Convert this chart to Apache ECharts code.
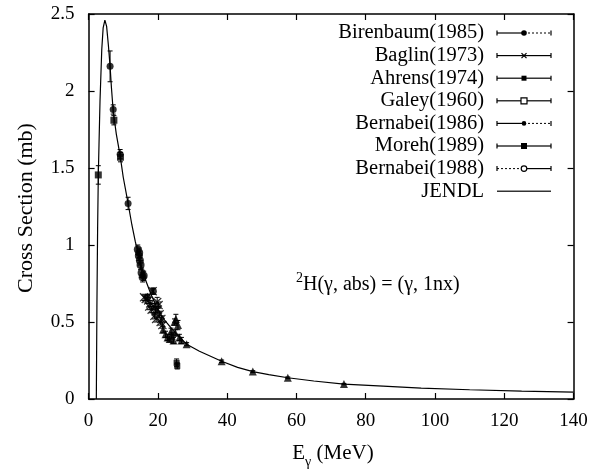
<!DOCTYPE html>
<html><head><meta charset="utf-8">
<script src="https://cdn.jsdelivr.net/npm/echarts@6/dist/echarts.min.js"></script>
<style>html,body{margin:0;padding:0;background:#fff}#c{width:593px;height:473px}</style>
</head><body><div id="c"></div>
<script>
// ---------- data ----------
const xTicks = [0, 20, 40, 60, 80, 100, 120, 140];
const yTicks = [0, 0.5, 1, 1.5, 2, 2.5];

const jendlE = [2.23, 2.4, 2.6, 2.8, 3.0, 3.3, 3.8, 4.2, 4.7, 5.2, 5.7, 6.2, 6.6, 7.1, 8, 9.1, 10, 11.4, 12.5, 13.5, 15, 16.5, 18, 20, 22, 25, 28.3, 32, 38.4, 43, 47.4, 52, 57.5, 65, 73.7, 85, 96, 110, 125, 140];
const jendlY = [0, 0.6, 1.1, 1.45, 1.65, 1.94, 2.27, 2.41, 2.46, 2.42, 2.3, 2.16, 2.02, 1.87, 1.72, 1.58, 1.44, 1.27, 1.13, 1.02, 0.88, 0.77, 0.68, 0.58, 0.51, 0.43, 0.356, 0.31, 0.245, 0.205, 0.178, 0.158, 0.138, 0.117, 0.097, 0.083, 0.07, 0.06, 0.051, 0.045];

const birenbaumE = [6.2, 7.1, 9.1, 11.4];
const birenbaumY = [2.16, 1.88, 1.59, 1.27];
const birenbaumErr = [0.10, 0.03, 0.03, 0.04];

const baglinE = [16.5, 17.2, 17.8, 18.5, 18.9, 19.3, 19.8, 20.2, 20.5, 19.5, 20.8, 21.3, 16.0, 18.2, 17.5, 19.0, 20.0, 21.0];
const baglinY = [0.65, 0.64, 0.62, 0.70, 0.60, 0.57, 0.63, 0.61, 0.55, 0.52, 0.50, 0.48, 0.66, 0.58, 0.60, 0.54, 0.58, 0.52];
const baglinErr = [0.02, 0.02, 0.02, 0.02, 0.02, 0.02, 0.03, 0.02, 0.02, 0.02, 0.02, 0.02, 0.02, 0.02, 0.02, 0.02, 0.02, 0.02];

const ahrensE = [21.5, 22.2, 22.8, 23.4, 24.0, 24.5, 25.0, 25.2, 25.8, 26.2, 24.8, 23.8, 26.8, 28.3, 38.4, 47.4, 57.5, 73.7];
const ahrensY = [0.45, 0.42, 0.40, 0.39, 0.41, 0.38, 0.43, 0.52, 0.48, 0.40, 0.50, 0.44, 0.38, 0.356, 0.245, 0.178, 0.138, 0.097];
const ahrensErr = [0.02, 0.02, 0.02, 0.02, 0.02, 0.02, 0.02, 0.03, 0.03, 0.02, 0.02, 0.02, 0.02, 0.01, 0.008, 0.006, 0.005, 0.004];

const galeyE = [25.4, 25.6];
const galeyY = [0.235, 0.215];
const galeyErr = [0.025, 0.02];

const bernabei86E = [14.2, 14.5, 14.6, 14.8, 15.0, 15.3, 15.6, 15.9];
const bernabei86Y = [0.97, 0.93, 0.95, 0.90, 0.87, 0.82, 0.79, 0.80];
const bernabei86Err = [0.03, 0.03, 0.03, 0.03, 0.03, 0.03, 0.03, 0.03];

const morehE = [2.8, 7.3, 9.2];
const morehY = [1.455, 1.81, 1.57];
const morehErr = [0.06, 0.03, 0.03];

const bernabei88E = [18.7, 17.0];
const bernabei88Y = [0.70, 0.66];
const bernabei88Err = [0.02, 0.02];

const legendNames = ['Birenbaum(1985)', 'Baglin(1973)', 'Ahrens(1974)', 'Galey(1960)', 'Bernabei(1986)', 'Moreh(1989)', 'Bernabei(1988)', 'JENDL'];

// ---------- helpers ----------
function zip3(a, b, c) { return a.map((v, i) => [v, b[i], c[i]]); }
const FONT = '"Liberation Serif", "Times New Roman", serif';
const XPATH = 'path://M1,0L5,4L9,0L10,1L6,5L10,9L9,10L5,6L1,10L0,9L4,5L0,1Z';

function errSeries(name, data) {
  return {
    type: 'custom', name: name + '-err', data: data, z: 3,
    dimensions: ['x', 'y', 'e'], encode: { x: 0, y: 1 },
    renderItem: function (params, api) {
      const x = api.value(0), y = api.value(1), e = api.value(2);
      const t = api.coord([x, y + e]), b = api.coord([x, y - e]);
      const st = { stroke: '#000', lineWidth: 1 };
      return { type: 'group', children: [
        { type: 'line', shape: { x1: t[0], y1: t[1], x2: b[0], y2: b[1] }, style: st },
        { type: 'line', shape: { x1: t[0] - 2.5, y1: t[1], x2: t[0] + 2.5, y2: t[1] }, style: st },
        { type: 'line', shape: { x1: b[0] - 2.5, y1: b[1], x2: b[0] + 2.5, y2: b[1] }, style: st }
      ]};
    }
  };
}
function ptSeries(name, data, symbol, size, filled) {
  return {
    type: 'scatter', name: name, data: data, symbol: symbol, symbolSize: size, z: 4,
    itemStyle: filled ? { color: '#000' } : { color: '#fff', borderColor: '#000', borderWidth: 1 }
  };
}

const datasets = [
  ['Birenbaum(1985)', zip3(birenbaumE, birenbaumY, birenbaumErr), 'circle', 7, true],
  ['Baglin(1973)', zip3(baglinE, baglinY, baglinErr), XPATH, 9, true],
  ['Ahrens(1974)', zip3(ahrensE, ahrensY, ahrensErr), 'triangle', 8, true],
  ['Galey(1960)', zip3(galeyE, galeyY, galeyErr), 'rect', 6, true],
  ['Bernabei(1986)', zip3(bernabei86E, bernabei86Y, bernabei86Err), 'circle', 8, true],
  ['Moreh(1989)', zip3(morehE, morehY, morehErr), 'rect', 7, true],
  ['Bernabei(1988)', zip3(bernabei88E, bernabei88Y, bernabei88Err), 'circle', 7, true]
];

const series = [{
  type: 'line', name: 'JENDL', data: jendlE.map((e, i) => [e, jendlY[i]]),
  showSymbol: false, lineStyle: { color: '#000', width: 1.2 }, z: 2, silent: true
}];
datasets.forEach(d => { series.push(errSeries(d[0], d[1])); series.push(ptSeries(d[0], d[1], d[2], d[3], d[4])); });

// ---------- legend (drawn as graphic) ----------
const LX_TEXT = 484, LX0 = 497, LX1 = 551, LXM = 524, LY0 = 33, LDY = 22.6;
const gfx = [];
const styles = [
  { marker: 'circleF', dashR: true },
  { marker: 'x' },
  { marker: 'sq' },
  { marker: 'sqO' },
  { marker: 'dot', dashR: true },
  { marker: 'sqB' },
  { marker: 'circO', dashL: true },
  { marker: null, noCaps: true }
];
legendNames.forEach((nm, i) => {
  const y = LY0 + i * LDY;
  const s = styles[i];
  gfx.push({ type: 'text', x: LX_TEXT, y: y, style: { text: nm, font: '20.5px ' + FONT, fill: '#000', align: 'right', verticalAlign: 'middle' } });
  const st = { stroke: '#000', lineWidth: 1.2 };
  const dst = { stroke: '#000', lineWidth: 1, lineDash: [2, 2] };
  gfx.push({ type: 'line', shape: { x1: LX0, y1: y, x2: LXM, y2: y }, style: s.dashL ? dst : st });
  gfx.push({ type: 'line', shape: { x1: LXM, y1: y, x2: LX1, y2: y }, style: s.dashR ? dst : st });
  if (!s.noCaps) {
    gfx.push({ type: 'line', shape: { x1: LX0, y1: y - 2.5, x2: LX0, y2: y + 2.5 }, style: st });
    gfx.push({ type: 'line', shape: { x1: LX1, y1: y - 2.5, x2: LX1, y2: y + 2.5 }, style: st });
  }
  if (s.marker === 'circleF') gfx.push({ type: 'circle', shape: { cx: LXM, cy: y, r: 2.8 }, style: { fill: '#000' } });
  if (s.marker === 'dot') gfx.push({ type: 'circle', shape: { cx: LXM, cy: y, r: 2.3 }, style: { fill: '#000' } });
  if (s.marker === 'x') {
    gfx.push({ type: 'line', shape: { x1: LXM - 2.5, y1: y - 2.5, x2: LXM + 2.5, y2: y + 2.5 }, style: st });
    gfx.push({ type: 'line', shape: { x1: LXM - 2.5, y1: y + 2.5, x2: LXM + 2.5, y2: y - 2.5 }, style: st });
  }
  if (s.marker === 'sq') gfx.push({ type: 'rect', shape: { x: LXM - 2.5, y: y - 2.5, width: 5, height: 5 }, style: { fill: '#000' } });
  if (s.marker === 'sqB') gfx.push({ type: 'rect', shape: { x: LXM - 3, y: y - 3, width: 6, height: 6 }, style: { fill: '#000' } });
  if (s.marker === 'sqO') gfx.push({ type: 'rect', shape: { x: LXM - 3, y: y - 3, width: 6, height: 6 }, style: { fill: '#fff', stroke: '#000', lineWidth: 1.2 } });
  if (s.marker === 'circO') gfx.push({ type: 'circle', shape: { cx: LXM, cy: y, r: 2.8 }, style: { fill: '#fff', stroke: '#000', lineWidth: 1.2 } });
});
// annotation
gfx.push({ type: 'text', x: 296, y: 283, style: {
  text: '{s|2}{n|H(γ, abs) = (γ, 1nx)}', verticalAlign: 'middle',
  rich: { s: { font: '14px ' + FONT, fill: '#000', verticalAlign: 'top', lineHeight: 24 }, n: { font: '20px ' + FONT, fill: '#000', lineHeight: 24, verticalAlign: 'bottom' } }
}});
// axis titles
gfx.push({ type: 'text', x: 26, y: 208, rotation: Math.PI / 2, style: { text: 'Cross Section (mb)', font: '22px ' + FONT, fill: '#000', align: 'center', verticalAlign: 'middle' } });
gfx.push({ type: 'text', x: 333, y: 456, style: {
  text: '{n|E}{s|γ}{n| (MeV)}', align: 'center', verticalAlign: 'middle',
  rich: { n: { font: '21px ' + FONT, fill: '#000', lineHeight: 26, verticalAlign: 'top' }, s: { font: '14px ' + FONT, fill: '#000', lineHeight: 26, verticalAlign: 'bottom' } }
}});

const axisCommon = {
  axisLine: { show: true, onZero: false, lineStyle: { color: '#000', width: 1.5 } },
  axisTick: { show: true, inside: true, length: 6, lineStyle: { color: '#000', width: 1.2 } },
  splitLine: { show: false }
};
const chart = echarts.init(document.getElementById('c'), null, { renderer: 'canvas' });
chart.setOption({
  animation: false,
  backgroundColor: '#fff',
  grid: { left: 88.6, right: 19.4, top: 14, bottom: 74 },
  xAxis: [
    Object.assign({ type: 'value', position: 'bottom', min: xTicks[0], max: xTicks[xTicks.length - 1], interval: 20,
      axisLabel: { color: '#000', fontFamily: FONT, fontSize: 19, margin: 13 } }, axisCommon),
    Object.assign({ type: 'value', position: 'top', min: xTicks[0], max: xTicks[xTicks.length - 1], interval: 20,
      axisLabel: { show: false } }, axisCommon)
  ],
  yAxis: [
    Object.assign({ type: 'value', position: 'left', min: yTicks[0], max: yTicks[yTicks.length - 1], interval: 0.5,
      axisLabel: { color: '#000', fontFamily: FONT, fontSize: 19, margin: 14 } }, axisCommon),
    Object.assign({ type: 'value', position: 'right', min: yTicks[0], max: yTicks[yTicks.length - 1], interval: 0.5,
      axisLabel: { show: false } }, axisCommon)
  ],
  series: series,
  graphic: gfx
});
</script></body></html>
